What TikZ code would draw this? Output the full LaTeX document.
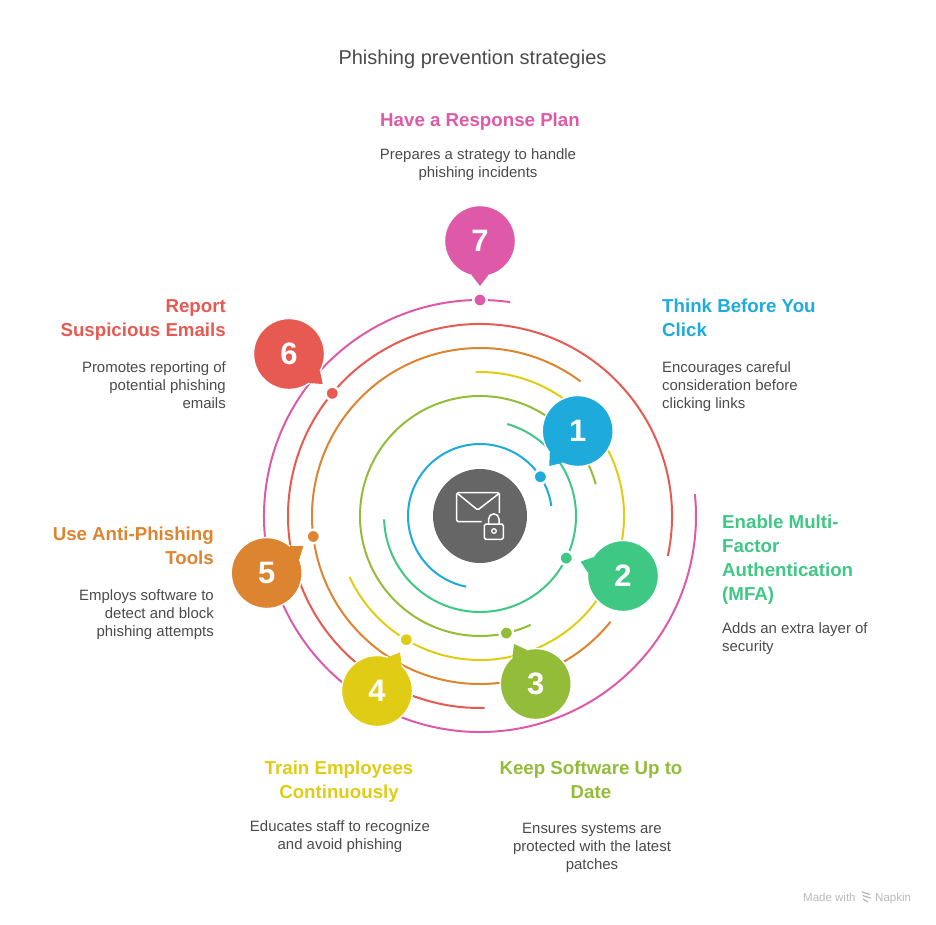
\documentclass[tikz,border=0pt]{standalone}
\usepackage{fontspec}
\setmainfont{Liberation Sans}
\definecolor{pinkc}{HTML}{DE5AA8}
\definecolor{redc}{HTML}{E65A52}
\definecolor{orangec}{HTML}{DD8430}
\definecolor{yellowc}{HTML}{E0CC14}
\definecolor{limec}{HTML}{93BC39}
\definecolor{greenc}{HTML}{3FC784}
\definecolor{bluec}{HTML}{1EAADB}
\definecolor{hubc}{HTML}{666666}
\definecolor{textc}{HTML}{4A4A4A}
\definecolor{markc}{HTML}{B8B8B8}
\tikzset{
  ring/.style={line width=2},
  dotn/.style={circle,draw=white,line width=2.5,minimum size=13.5,inner sep=0,outer sep=0},
  bubble/.style={circle,draw=white,line width=1.4,minimum size=71,inner sep=0,outer sep=0,text=white,font=\bfseries\fontsize{31}{31}\selectfont},
  icon/.style={draw=white,line width=1.5,rounded corners=1.5},
  head/.style={inner sep=0,font=\bfseries\fontsize{18.7}{24}\selectfont},
  desc/.style={inner sep=0,text=textc,font=\fontsize{14.95}{18}\selectfont}
}
\begin{document}
\begin{tikzpicture}[x=1pt,y=1pt]
\useasboundingbox (0,-924) rectangle (936,0);
\node [circle,fill=hubc,minimum size=94,inner sep=0,outer sep=0] (hub) at (480,-516) {};
\draw [ring,color=pinkc] ([shift={(82:216)}]hub.center) arc (82:365.8:216);
\draw [ring,color=redc] ([shift={(-12:192)}]hub.center) arc (-12:271.4:192);
\draw [ring,color=orangec] ([shift={(53.2:168)}]hub.center) arc (53.2:321:168);
\draw [ring,color=yellowc] ([shift={(205:144)}]hub.center) arc (205:451.7:144);
\draw [ring,color=limec] ([shift={(15.3:120)}]hub.center) arc (15.3:295:120);
\draw [ring,color=greenc] ([shift={(182:96)}]hub.center) arc (182:433.5:96);
\draw [ring,color=bluec] ([shift={(8:72)}]hub.center) arc (8:259:72);
\node [dotn,fill=pinkc] (dot7) at ([shift={(90:216)}]hub.center) {};
\node [dotn,fill=redc] (dot6) at ([shift={(140.3:192)}]hub.center) {};
\node [dotn,fill=orangec] (dot5) at ([shift={(187:168)}]hub.center) {};
\node [dotn,fill=yellowc] (dot4) at ([shift={(239.2:144)}]hub.center) {};
\node [dotn,fill=limec] (dot3) at ([shift={(-77.3:120)}]hub.center) {};
\node [dotn,fill=greenc] (dot2) at ([shift={(-26:96)}]hub.center) {};
\node [dotn,fill=bluec] (dot1) at ([shift={(33:72)}]hub.center) {};
\node [bubble,fill=bluec] (one) at (577.7,-431) {};
\node [bubble,fill=greenc] (two) at (623,-576) {};
\node [bubble,fill=limec] (three) at (535.7,-684) {};
\node [bubble,fill=yellowc] (four) at (377,-691) {};
\node [bubble,fill=orangec] (five) at (266.7,-573) {};
\node [bubble,fill=redc] (six) at (289,-354) {};
\node [bubble,fill=pinkc] (seven) at (480,-241) {};
\coordinate (tip1) at (549.3,-466);
\coordinate (tip2) at (580.7,-561.7);
\coordinate (tip3) at (514,-644);
\coordinate (tip4) at (400,-652.3);
\coordinate (tip5) at (303.3,-546);
\coordinate (tip6) at (322.7,-384);
\coordinate (tip7) at (480,-286);
\fill [bluec] (one.center) -- (one.218) -- (tip1) -- (one.244) -- cycle;
\fill [greenc] (two.center) -- (two.148) -- (tip2) -- (two.174) -- cycle;
\fill [limec] (three.center) -- (three.105) -- (tip3) -- (three.131) -- cycle;
\fill [yellowc] (four.center) -- (four.46) -- (tip4) -- (four.72) -- cycle;
\fill [orangec] (five.center) -- (five.23) -- (tip5) -- (five.49) -- cycle;
\fill [redc] (six.center) -- (six.-29) -- (tip6) -- (six.-55) -- cycle;
\fill [pinkc] (seven.center) -- (seven.-77) -- (tip7) -- (seven.-103) -- cycle;
\node [bubble] (num1) at (one.center) [draw=none] {1};
\node [bubble] (num2) at (two.center) [draw=none] {2};
\node [bubble] (num3) at (three.center) [draw=none] {3};
\node [bubble] (num4) at (four.center) [draw=none] {4};
\node [bubble] (num5) at (five.center) [draw=none] {5};
\node [bubble] (num6) at (six.center) [draw=none] {6};
\node [bubble] (num7) at (seven.center) [draw=none] {7};
\draw [icon] (481.7,-521.7) -- (456.7,-521.7) -- (456.7,-492.7) -- (499.3,-492.7) -- (499.3,-513);
\draw [icon] (457.3,-493.3) -- (477.7,-510) -- (499.3,-493.3);
\draw [icon] (484.3,-524) rectangle (503.3,-539.3);
\draw [draw=white,line width=1.5] (488.6,-524) -- (488.6,-519) arc (180:0:5.2) -- (499,-524);
\draw [draw=white,line width=1.3] (494,-531) circle (2.3);
\node [inner sep=0,text=textc,font=\fontsize{20}{24}\selectfont] (title) at (472.5,-59) {Phishing prevention strategies};
\node [head,text=pinkc,anchor=north,align=center] (h7) at (480,-113) {Have a Response Plan};
\node [desc,anchor=north,align=center] (d7) at (478,-148) {Prepares a strategy to handle\\phishing incidents};
\node [head,text=bluec,anchor=north west,align=left] (h1) at (662,-299) {Think Before You\\Click};
\node [desc,anchor=north west,align=left] (d1) at (662,-361) {Encourages careful\\consideration before\\clicking links};
\node [head,text=greenc,anchor=north west,align=left] (h2) at (722,-515) {Enable Multi-\\Factor\\Authentication\\(MFA)};
\node [desc,anchor=north west,align=left] (d2) at (722,-622) {Adds an extra layer of\\security};
\node [head,text=limec,anchor=north,align=center] (h3) at (591,-761) {Keep Software Up to\\Date};
\node [desc,anchor=north,align=center] (d3) at (592,-823) {Ensures systems are\\protected with the latest\\patches};
\node [head,text=yellowc,anchor=north,align=center] (h4) at (339,-761) {Train Employees\\Continuously};
\node [desc,anchor=north,align=center] (d4) at (340,-820) {Educates staff to recognize\\and avoid phishing};
\node [head,text=orangec,anchor=north east,align=right] (h5) at (214,-527) {Use Anti-Phishing\\Tools};
\node [desc,anchor=north east,align=right] (d5) at (214,-589) {Employs software to\\detect and block\\phishing attempts};
\node [head,text=redc,anchor=north east,align=right] (h6) at (226,-299) {Report\\Suspicious Emails};
\node [desc,anchor=north east,align=right] (d6) at (226,-361) {Promotes reporting of\\potential phishing\\emails};
\node [inner sep=0,anchor=base west,text=markc,font=\fontsize{11.5}{12}\selectfont] (made) at (803,-901) {Made with};
\node [inner sep=0,anchor=base west,text=markc,font=\fontsize{11.5}{12}\selectfont] (napkin) at (875,-901) {Napkin};
\draw [color=markc,line width=1.3] (862,-892) -- (870,-894.5);
\draw [color=markc,line width=1.3] (862.5,-895.5) -- (870.5,-898);
\draw [color=markc,line width=1.3] (863,-899) -- (868,-902);
\end{tikzpicture}
\end{document}
